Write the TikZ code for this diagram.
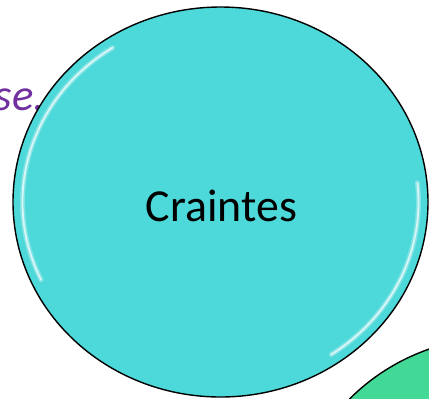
\documentclass[tikz,border=0pt]{standalone}
\usepackage{fontspec}
\setmainfont{Carlito}
\usepackage{tikz}
\usetikzlibrary{calc,shapes.geometric}
\usepackage{xcolor}

\definecolor{bubblecyan}{RGB}{77,216,218}
\definecolor{bubblegreen}{RGB}{66,216,150}
\definecolor{notepurple}{RGB}{112,48,160}

\tikzset{
    bubble/.style={ellipse, draw=black, line width=1.4bp, inner sep=0pt},
    gloss/.style={white, line width=5bp, opacity=0.3, line cap=round},
    glosscore/.style={white, line width=1.8bp, opacity=0.7, line cap=round}
}

\begin{document}
\begin{tikzpicture}[x=1bp, y=-1bp]
    \useasboundingbox (0,0) rectangle (429,399);
    \clip (0,0) rectangle (429,399);

    % text of the slide behind the bubbles
    \node[anchor=base east, inner sep=0pt, text=notepurple,
          font=\fontsize{45}{50}\selectfont\itshape] (note) at (45,110) {se.};

    % green bubble, mostly off the page
    \node[bubble, fill=bubblegreen, minimum width=415bp, minimum height=392bp]
        (fears2) at (501,533) {};

    % main bubble
    \coordinate (C) at (220.5,202);
    \node[bubble, fill=bubblecyan, minimum width=415bp, minimum height=390bp]
        (bubble1) at (C) {};
    \node[font=\fontsize{46}{50}\selectfont] (craintes) at (221.5,206) {Craintes};

    % highlights
    \foreach \s in {gloss,glosscore} {
        \draw[\s] ($(C)+(-205:198 and 184)$) arc[start angle=-205, end angle=-123, x radius=198, y radius=184];
        \draw[\s] ($(C)+(-6:198 and 184)$) arc[start angle=-6, end angle=56, x radius=198, y radius=184];
    }
\end{tikzpicture}
\end{document}
